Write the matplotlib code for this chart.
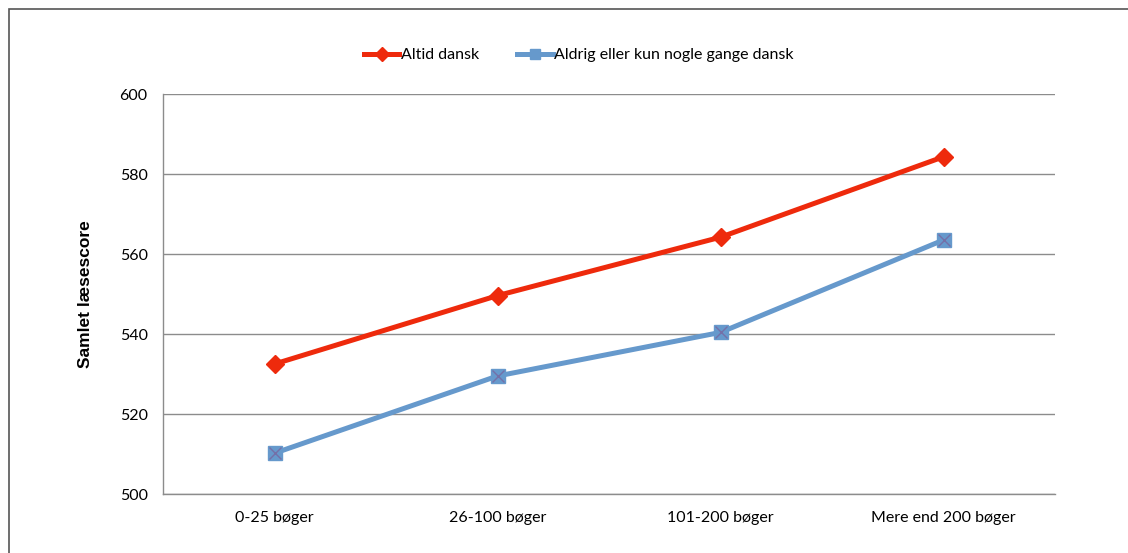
import numpy as np
import matplotlib.pyplot as plt
from matplotlib.lines import Line2D
from matplotlib.patches import Rectangle

plt.rcParams['font.family'] = ['Lato', 'DejaVu Sans']

# Samlet læsescore efter antal bøger i hjemmet
kategorier = ['0-25 bøger', '26-100 bøger', '101-200 bøger', 'Mere end 200 bøger']
altid_dansk = [532.5, 549.6, 564.2, 584.3]
aldrig_dansk = [510.2, 529.5, 540.4, 563.5]
yticks = [500, 520, 540, 560, 580, 600]

rod = '#EE2A0C'
blaa = '#6699CC'
kryds = '#7470A8'

fig = plt.figure(figsize=(11.28, 5.53), dpi=100)
ax = fig.add_axes([163/1128, 1-494/553, (1055-163)/1128, (494-94)/553])

x = np.arange(len(kategorier))
ax.plot(x, altid_dansk, color=rod, lw=3.6, marker='D', ms=9.5,
        mec=rod, mfc=rod, zorder=4)
ax.plot(x, aldrig_dansk, color=blaa, lw=3.6, marker='s', ms=9.5,
        mec=blaa, mfc=blaa, zorder=3)
ax.plot(x, aldrig_dansk, ls='none', marker='x', ms=9, mew=1.0,
        color=kryds, zorder=3.5)

ax.set_xlim(-0.5, len(kategorier) - 0.5)
ax.set_ylim(500, 600)
ax.set_yticks(yticks)
ax.set_xticks(x)
ax.set_xticklabels(kategorier)
ax.tick_params(length=0, labelsize=11.5, colors='black')
ax.tick_params(axis='y', pad=11)
ax.tick_params(axis='x', pad=12)

ax.grid(axis='y', color='#8C8C8C', lw=1)
ax.set_axisbelow(True)
for s in ['top', 'right']:
    ax.spines[s].set_visible(False)
for s in ['left', 'bottom']:
    ax.spines[s].set_color('#8C8C8C')
    ax.spines[s].set_linewidth(1)

ax.set_ylabel('Samlet læsescore', family=['Liberation Sans', 'DejaVu Sans'],
              fontweight='bold', fontsize=12.5, labelpad=19)

# Forklaring øverst
h1 = Line2D([], [], color=rod, lw=3.6, marker='D', ms=7, mec=rod, mfc=rod)
h2 = Line2D([], [], color=blaa, lw=3.6, marker='s', ms=7, mec=blaa, mfc=blaa)
fig.legend([h1, h2], ['Altid dansk', 'Aldrig eller kun nogle gange dansk'],
           loc='center', bbox_to_anchor=(579/1128, 1-55/553), ncol=2,
           frameon=False, fontsize=11.5, handlelength=2.2, handletextpad=0.1,
           columnspacing=2.4)

# Ramme om diagrammet
fig.patches.append(Rectangle((9/1128, -0.1), 1.2, 1 - 9/553 + 0.1,
                             transform=fig.transFigure, fill=False,
                             ec='#555555', lw=1.2))

fig.savefig('out.png', dpi=100)
